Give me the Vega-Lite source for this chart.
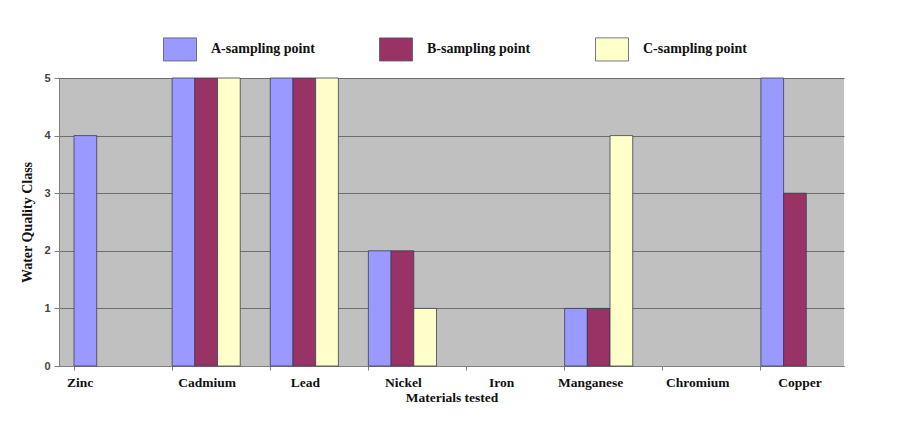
{
  "$schema": "https://vega.github.io/schema/vega-lite/v6.json",
  "autosize": "none",
  "width": 785,
  "height": 288,
  "padding": {"left": 59, "top": 78, "right": 55, "bottom": 55},
  "background": "white",
  "config": {
    "view": {"fill": "#c0c0c0", "stroke": null},
    "font": "Liberation Serif"
  },
  "data": {
    "values": [
      {"material": "Zinc", "point": "A-sampling point", "cls": 4},
      {"material": "Cadmium", "point": "A-sampling point", "cls": 5},
      {"material": "Cadmium", "point": "B-sampling point", "cls": 5},
      {"material": "Cadmium", "point": "C-sampling point", "cls": 5},
      {"material": "Lead", "point": "A-sampling point", "cls": 5},
      {"material": "Lead", "point": "B-sampling point", "cls": 5},
      {"material": "Lead", "point": "C-sampling point", "cls": 5},
      {"material": "Nickel", "point": "A-sampling point", "cls": 2},
      {"material": "Nickel", "point": "B-sampling point", "cls": 2},
      {"material": "Nickel", "point": "C-sampling point", "cls": 1},
      {"material": "Manganese", "point": "A-sampling point", "cls": 1},
      {"material": "Manganese", "point": "B-sampling point", "cls": 1},
      {"material": "Manganese", "point": "C-sampling point", "cls": 4},
      {"material": "Copper", "point": "A-sampling point", "cls": 5},
      {"material": "Copper", "point": "B-sampling point", "cls": 3}
    ]
  },
  "mark": {"type": "bar", "stroke": "#3c3c50", "strokeWidth": 0.8},
  "encoding": {
    "x": {
      "field": "material",
      "type": "nominal",
      "sort": ["Zinc", "Cadmium", "Lead", "Nickel", "Iron", "Manganese", "Chromium", "Copper"],
      "scale": {
        "domain": ["Zinc", "Cadmium", "Lead", "Nickel", "Iron", "Manganese", "Chromium", "Copper"],
        "paddingInner": 0.306,
        "paddingOuter": 0.153
      },
      "axis": {
        "title": "Materials tested",
        "titleFont": "Liberation Serif",
        "titleFontSize": 13.5,
        "titleFontWeight": "bold",
        "titleColor": "#111",
        "titlePadding": 2,
        "labelAngle": 0,
        "labelFont": "Liberation Serif",
        "labelFontSize": 13.5,
        "labelFontWeight": "bold",
        "labelColor": "#111",
        "labelPadding": 5,
        "labelOffset": {
          "condition": [
            {"test": "datum.value === 'Zinc'", "value": -28},
            {"test": "datum.value === 'Manganese'", "value": -8},
            {"test": "datum.value === 'Copper'", "value": 5}
          ],
          "value": 1
        },
        "bandPosition": 0,
        "ticks": true,
        "tickSize": 4,
        "tickColor": "#808080",
        "domainColor": "#808080",
        "grid": false
      }
    },
    "xOffset": {
      "field": "point",
      "type": "nominal",
      "scale": {"domain": ["A-sampling point", "B-sampling point", "C-sampling point"], "paddingInner": 0, "paddingOuter": 0}
    },
    "y": {
      "field": "cls",
      "type": "quantitative",
      "scale": {"domain": [0, 5], "nice": false},
      "axis": {
        "title": "Water Quality Class",
        "titleFont": "Liberation Serif",
        "titleFontSize": 14,
        "titleFontWeight": "bold",
        "titleColor": "#111",
        "titlePadding": 9,
        "values": [0, 1, 2, 3, 4, 5],
        "format": "d",
        "labelFont": "Liberation Sans",
        "labelFontSize": 11,
        "labelFontWeight": "bold",
        "labelColor": "#444",
        "labelPadding": 4,
        "tickSize": 5,
        "tickColor": "#808080",
        "domainColor": "#808080",
        "grid": true,
        "gridColor": "#6e6e6e",
        "gridWidth": 1
      }
    },
    "color": {
      "field": "point",
      "type": "nominal",
      "scale": {
        "domain": ["A-sampling point", "B-sampling point", "C-sampling point"],
        "range": ["#9999ff", "#993366", "#ffffcc"]
      },
      "legend": {
        "title": null,
        "orient": "none",
        "direction": "horizontal",
        "legendX": 104,
        "legendY": -46,
        "symbolType": "M-1,-0.7H1V0.7H-1Z",
        "symbolSize": 1089,
        "symbolStrokeColor": "#55556a",
        "symbolStrokeWidth": 0.8,
        "symbolOpacity": 1,
        "labelFont": "Liberation Serif",
        "labelFontSize": 14,
        "labelFontWeight": "bold",
        "labelColor": "#111",
        "labelOffset": 14,
        "columnPadding": 62,
        "labelLimit": 200
      }
    }
  }
}
